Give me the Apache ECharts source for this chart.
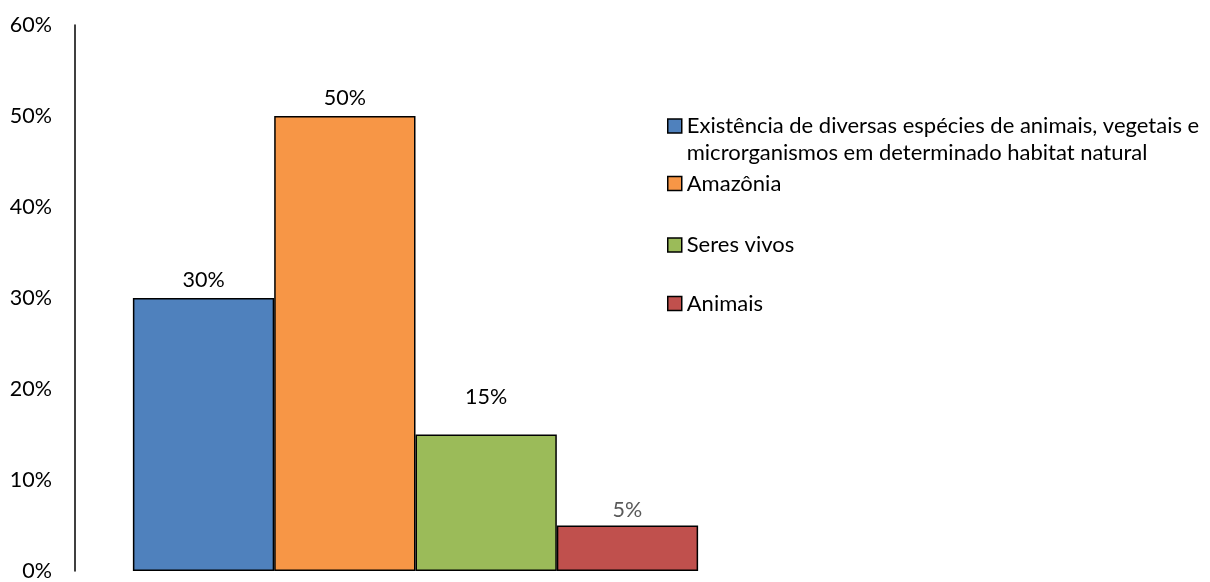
<!DOCTYPE html>
<html>
<head>
<meta charset="utf-8">
<script src="https://cdn.jsdelivr.net/npm/echarts@6/dist/echarts.min.js"></script>
<style>
  html, body { margin: 0; padding: 0; background: #fff; }
  #chart { width: 1210px; height: 582px; }
</style>
</head>
<body>
<div id="chart"></div>
<script>
// Respostas: o que significa biodiversidade
const categories = ['Biodiversidade'];
const seriesNames = [
  'Existência de diversas espécies de animais, vegetais e microrganismos em determinado habitat natural',
  'Amazônia',
  'Seres vivos',
  'Animais'
];
const seriesValues = [30, 50, 15, 5];
const seriesColors = ['#4F81BD', '#F79646', '#9BBB59', '#C0504D'];
const labelColors = ['#000000', '#000000', '#000000', '#595959'];
const labelDistances = [7, 7, 26, 4];
const yTicks = [0, 10, 20, 30, 40, 50, 60];
const legendTops = [85.5, 170, 231.5, 290];

const FONT = 'Lato, "Open Sans", sans-serif';

const chart = echarts.init(document.getElementById('chart'), null, { renderer: 'canvas' });

const series = seriesNames.map((name, i) => ({
  name: name,
  type: 'bar',
  data: [seriesValues[i]],
  barGap: '0%',
  barCategoryGap: '17%',
  itemStyle: { color: seriesColors[i], borderColor: '#000', borderWidth: 1.5 },
  label: {
    show: true,
    position: 'top',
    distance: labelDistances[i],
    formatter: p => p.value + '%',
    color: labelColors[i],
    fontFamily: FONT,
    fontSize: 21.5
  }
}));

// One legend per series so each entry sits at its own height;
// the long first entry wraps onto a second line, marker on the first.
const legends = seriesNames.map((name, i) => {
  const lg = {
    data: [name],
    orient: 'vertical',
    left: 667,
    top: legendTops[i],
    padding: 0,
    itemWidth: 14,
    itemHeight: 14,
    icon: 'rect',
    itemStyle: { borderColor: '#000', borderWidth: 1.5 },
    textStyle: { fontFamily: FONT, fontSize: 22, color: '#000', lineHeight: 27 },
    selectedMode: false
  };
  if (i === 0) {
    lg.formatter = () => ' \nExistência de diversas espécies de animais, vegetais e\nmicrorganismos em determinado habitat natural';
  }
  return lg;
});

chart.setOption({
  animation: false,
  backgroundColor: '#fff',
  grid: { left: 75, top: 25, width: 681, bottom: 7.5, containLabel: false },
  legend: legends,
  xAxis: {
    type: 'category',
    data: categories,
    show: false
  },
  yAxis: {
    type: 'value',
    min: yTicks[0],
    max: yTicks[yTicks.length - 1],
    interval: 10,
    axisLine: { show: true, lineStyle: { color: '#000', width: 1.5 } },
    axisTick: { show: false },
    splitLine: { show: false },
    axisLabel: {
      margin: 23,
      formatter: v => v + '%',
      color: '#000',
      fontFamily: FONT,
      fontSize: 21.5
    }
  },
  series: series
});
</script>
</body>
</html>
